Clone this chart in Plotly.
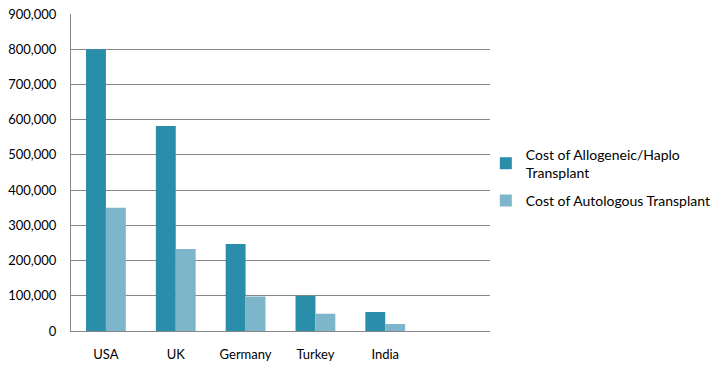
import plotly.graph_objects as go

categories = ["USA", "UK", "Germany", "Turkey", "India"]
allo_values = [800000, 582000, 247000, 100000, 54000]
auto_values = [350000, 233000, 98000, 49000, 20000]
series_names = ["Cost of Allogeneic/Haplo<br>Transplant", "Cost of Autologous Transplant"]

FONT = "Lato"
GRID = "#868686"

fig = go.Figure()
fig.add_trace(go.Bar(x=categories, y=allo_values, name=series_names[0], legendgroup="a",
                     marker=dict(color="#2A8DA9", line=dict(width=0))))
fig.add_trace(go.Bar(x=categories, y=auto_values, name=series_names[1], legendgroup="b",
                     marker=dict(color="#7DB6CB", line=dict(width=0))))

fig.update_layout(
    width=726, height=375,
    margin=dict(l=71, r=236, t=14, b=44, autoexpand=False),
    paper_bgcolor="white", plot_bgcolor="white",
    barmode="group", bargap=0.43, bargroupgap=0,
    font=dict(family=FONT, size=13, color="#000000"),
    showlegend=True,
    legend=dict(x=0.99, xanchor="left", y=0.484, yanchor="middle",
                font=dict(family=FONT, size=14, color="#000000"),
                itemwidth=30, tracegroupgap=7, traceorder="grouped",
                bgcolor="rgba(0,0,0,0)"),
)
fig.update_xaxes(type="category", range=[-0.5, 5.5], showgrid=False,
                 showline=True, linecolor=GRID, linewidth=1, automargin=False,
                 ticks="", ticklabelstandoff=11, fixedrange=True,
                 ticklabeloverflow="allow")
fig.update_yaxes(range=[0, 900000], tickvals=[i * 100000 for i in range(10)],
                 tickformat=",", automargin=False,
                 showgrid=True, gridcolor=GRID, gridwidth=1,
                 showline=True, linecolor=GRID, linewidth=1,
                 zeroline=False, ticks="", ticklabelstandoff=11, fixedrange=True,
                 ticklabeloverflow="allow")

fig.write_html("out.html", config={"displayModeBar": False},
               post_script="document.body.style.margin='0';")
